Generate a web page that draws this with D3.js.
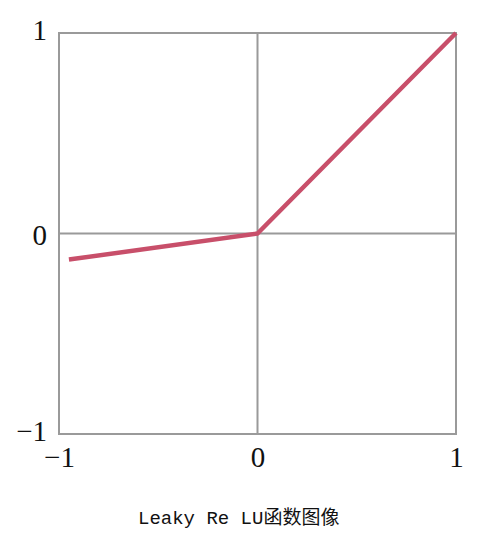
<!DOCTYPE html>
<html>
<head>
<meta charset="utf-8">
<script src="https://cdn.jsdelivr.net/npm/d3@7"></script>
<style>
  body { margin: 0; background: #fff; }
</style>
</head>
<body>
<script>
// Leaky ReLU plot
var width = 500;
var height = 537;
var margin = {top: 33, right: 44, bottom: 103, left: 59};

// data
var xValues = [-0.95, 0, 1];
var yValues = [-0.13, 0, 1];
var tickValues = [-1, 0, 1];
var tickLabels = ["\u22121", "0", "1"];
var caption = "Leaky Re LU\u51fd\u6570\u56fe\u50cf";

var points = xValues.map(function(x, i) { return [x, yValues[i]]; });

var svg = d3.select("body").append("svg")
    .attr("width", width)
    .attr("height", height);

var x = d3.scaleLinear().domain([-1, 1]).range([margin.left, width - margin.right]);
var y = d3.scaleLinear().domain([-1, 1]).range([height - margin.bottom, margin.top]);

//frame
svg.append("rect")
    .attr("x", x(-1))
    .attr("y", y(1))
    .attr("width", x(1) - x(-1))
    .attr("height", y(-1) - y(1))
    .attr("fill", "none")
    .attr("stroke", "#9a9a9a")
    .attr("stroke-width", 2);

//zero grid lines
svg.append("line")
    .attr("x1", x(0)).attr("x2", x(0))
    .attr("y1", y(-1)).attr("y2", y(1))
    .attr("stroke", "#9a9a9a").attr("stroke-width", 2);
svg.append("line")
    .attr("x1", x(-1)).attr("x2", x(1))
    .attr("y1", y(0)).attr("y2", y(0))
    .attr("stroke", "#9a9a9a").attr("stroke-width", 2);

//axes as plain labels
var xAxis = d3.axisBottom(x).tickValues(tickValues)
    .tickFormat(function(d, i) { return tickLabels[i]; })
    .tickSize(0).tickPadding(12);
var yAxis = d3.axisLeft(y).tickValues(tickValues)
    .tickFormat(function(d, i) { return tickLabels[i]; })
    .tickSize(0).tickPadding(12);

var gx = svg.append("g").attr("transform", "translate(0," + y(-1) + ")").call(xAxis);
var gy = svg.append("g").attr("transform", "translate(" + x(-1) + ",0)").call(yAxis);
[gx, gy].forEach(function(g) {
  g.select(".domain").remove();
  g.selectAll("text")
    .attr("fill", "#111")
    .style("font-family", "'Liberation Serif', 'DejaVu Serif', serif")
    .style("font-size", "29px");
});
gy.selectAll("text").attr("dy", "0.39em");
gy.selectAll(".tick").filter(function(d) { return d !== 0; }).select("text").attr("dy", "0.23em");

//the line
var line = d3.line()
    .x(function(d) { return x(d[0]); })
    .y(function(d) { return y(d[1]); });

svg.append("path")
    .datum(points)
    .attr("d", line)
    .attr("fill", "none")
    .attr("stroke", "#c84f6a")
    .attr("stroke-width", 4.5)
    .attr("stroke-linejoin", "round");

//caption
svg.append("text")
    .attr("x", 138)
    .attr("y", 524)
    .attr("fill", "#111")
    .style("font-family", "'Liberation Mono', 'DejaVu Sans Mono', 'Noto Sans CJK SC', monospace")
    .style("font-size", "19px")
    .text(caption);
</script>
</body>
</html>
